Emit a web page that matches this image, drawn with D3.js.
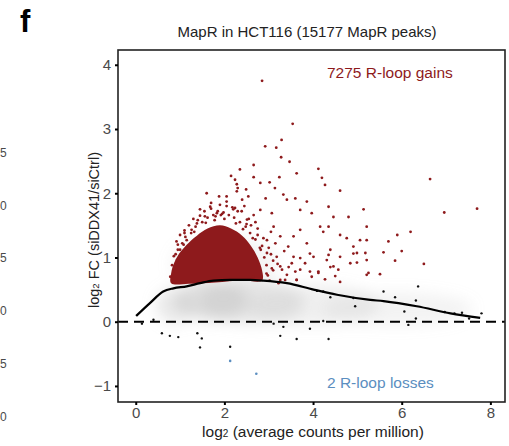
<!DOCTYPE html>
<html>
<head>
<meta charset="utf-8">
<script src="https://cdn.jsdelivr.net/npm/d3@7"></script>
<style>
  body { margin: 0; background: #fff; }
  svg text { font-family: "Liberation Sans", Arial, sans-serif; }
</style>
</head>
<body>
<svg id="chart" width="509" height="446"></svg>
<script>
// ---- data ----
const titleText = "MapR in HCT116 (15177 MapR peaks)";
const xTicks = [0, 2, 4, 6, 8];
const yTicks = [-1, 0, 1, 2, 3, 4];
const gainsLabel = "7275 R-loop gains";
const lossesLabel = "2 R-loop losses";
const neighbourLabels = ["5", "0", "5", "0", "5", "0"]; // tail digits of the panel on the left

// loess trend line
const trendX = [0.01, 0.32, 0.62, 0.85, 1.15, 1.45, 1.75, 2.13, 2.58, 2.88, 3.41, 4.01, 4.54, 5.29, 5.59, 6.34, 7.10, 7.77];
const trendY = [0.09, 0.29, 0.47, 0.52, 0.55, 0.60, 0.64, 0.65, 0.65, 0.64, 0.60, 0.50, 0.42, 0.34, 0.32, 0.24, 0.13, 0.06];

// grey density cloud of unchanged peaks: centre x, centre y, spread x, spread y, weight
const cloudX = [0.9, 1.7, 2.6, 4.0, 5.9, 2.0];
const cloudY = [0.25, 0.32, 0.30, 0.26, 0.20, 0.90];
const cloudSx = [0.45, 0.85, 1.2, 1.5, 1.7, 1.2];
const cloudSy = [0.28, 0.30, 0.34, 0.32, 0.26, 0.45];
const cloudW = [0.35, 0.5, 0.4, 0.28, 0.2, 0.18];

// outline of the dense block of gained peaks
const denseX = [0.80, 0.80, 0.87, 0.98, 1.15, 1.38, 1.62, 1.90, 2.15, 2.40, 2.60, 2.75, 2.85, 2.85, 2.40, 1.80, 1.20];
const denseY = [0.60, 0.76, 0.92, 1.06, 1.20, 1.34, 1.45, 1.50, 1.45, 1.34, 1.18, 1.00, 0.80, 0.64, 0.64, 0.61, 0.59];

// scattered gained peaks
const gainX = [3.54, 2.92, 3.17, 3.29, 3.28, 3.47, 2.66, 2.35, 2.15, 2.24, 2.28, 2.30, 2.28, 2.66, 2.81, 3.02, 3.24, 3.63,
  4.12, 4.20, 4.27, 4.61, 1.60, 1.45, 1.88, 2.05, 2.49, 2.54, 2.93, 3.14, 3.33, 3.41, 3.60, 3.86, 4.35, 5.14,
  1.68, 2.24, 2.81, 3.07, 3.71, 3.97, 4.46, 4.80, 4.16, 4.23, 4.35, 4.61, 4.76, 5.06, 5.21, 5.21, 4.91, 4.99,
  5.21, 5.25, 4.84, 4.61, 4.39, 4.31, 4.01, 3.86, 4.12, 4.46, 3.93, 3.71, 3.82, 3.56, 3.44, 3.26, 3.56, 3.71,
  3.11, 2.96, 3.18, 3.26, 3.07, 3.41, 3.26, 3.63, 2.96, 2.66, 2.51, 2.39, 1.90, 1.83, 1.56, 1.38, 1.26, 1.15,
  1.00, 0.93, 0.85, 3.93, 4.35, 4.39, 4.57, 4.61, 4.50, 5.21, 5.51, 5.59, 4.99, 4.91, 5.18, 3.97, 4.12, 3.60,
  3.63, 3.37, 3.30, 3.52, 3.71, 4.27, 3.22, 6.64, 6.96, 7.70, 2.85, 5.90, 6.00, 6.20, 5.70, 6.50, 5.85,
  3.00, 3.10, 2.95, 3.05, 2.20, 1.70, 1.95, 2.45, 2.70, 2.40, 1.30, 1.10, 0.95, 2.05, 2.60, 3.35, 3.15, 2.75,
  0.78, 0.82, 0.86, 0.95, 1.05, 1.12, 1.25, 1.35, 1.50, 1.62, 1.75, 1.85, 1.98, 2.10, 2.22, 2.35, 2.48, 2.58,
  2.70, 2.80, 2.90, 2.95, 2.98, 3.02, 2.55, 2.05, 1.70, 1.45, 1.20, 0.92, 2.75, 2.88, 3.05, 3.10, 1.55, 2.30,
  1.00, 2.65, 1.40, 1.80, 2.50, 3.20, 3.45, 2.85, 1.10, 1.92, 2.18,
  1.58, 1.78, 2.00, 2.26, 2.42, 1.32, 1.08, 2.64, 2.82, 0.90];
const gainY = [3.08, 2.73, 2.71, 2.83, 2.56, 2.49, 2.44, 2.37, 2.27, 2.21, 2.14, 2.08, 2.03, 2.25, 2.16, 2.17, 2.25, 2.31,
  2.38, 2.24, 2.13, 2.04, 2.00, 1.75, 1.95, 1.87, 2.06, 1.95, 1.92, 2.08, 1.98, 1.90, 1.92, 1.87, 1.79, 1.75,
  1.79, 1.77, 1.74, 1.69, 1.74, 1.69, 1.63, 1.63, 1.48, 1.40, 1.48, 1.35, 1.30, 1.27, 1.27, 1.48, 1.17, 1.07,
  0.96, 0.76, 0.91, 1.01, 1.12, 0.96, 1.01, 1.22, 0.78, 0.86, 0.78, 0.81, 0.91, 1.01, 1.17, 1.33, 1.33, 1.43,
  1.48, 1.27, 1.01, 0.86, 0.83, 0.73, 0.65, 0.65, 1.07, 1.66, 1.59, 1.72, 1.82, 1.69, 1.64, 1.53, 1.43, 1.27,
  1.12, 0.96, 0.78, 1.06, 1.04, 0.85, 0.81, 0.62, 0.71, 0.73, 0.74, 1.08, 0.92, 1.06, 1.07, 0.70, 0.76, 0.78,
  0.65, 0.65, 0.81, 0.91, 0.99, 0.66, 0.60, 2.22, 1.70, 1.76, 3.75, 1.35, 1.10, 1.40, 1.25, 0.90, 0.95,
  1.15, 0.95, 0.75, 1.40, 1.75, 1.85, 1.68, 1.80, 1.55, 1.90, 1.60, 1.38, 1.20, 1.95, 1.50, 1.10, 1.22, 1.35,
  0.70, 0.88, 1.02, 1.12, 1.22, 1.32, 1.38, 1.48, 1.55, 1.62, 1.66, 1.72, 1.70, 1.66, 1.62, 1.55, 1.48, 1.38,
  1.28, 1.15, 1.00, 0.88, 0.72, 0.64, 1.60, 1.80, 1.76, 1.65, 1.50, 1.25, 1.45, 1.30, 1.05, 0.80, 1.72, 1.72,
  1.35, 0.70, 1.58, 1.64, 1.52, 0.90, 0.85, 1.18, 1.42, 1.66, 1.78,
  1.54, 1.58, 1.60, 1.53, 1.44, 1.40, 1.20, 1.30, 1.12, 1.05];

// unchanged peaks drawn as single dots
const flatX = [0.14, 0.40, 0.59, 0.77, 0.96, 1.39, 1.49, 1.45, 2.13, 3.11, 3.33, 3.26, 3.63, 3.93, 4.23, 4.35,
  4.09, 4.23, 4.39, 4.91, 4.95, 5.59, 5.85, 6.06, 6.15, 6.32, 6.32, 6.37, 6.97, 7.19, 7.36, 7.52, 7.80];
const flatY = [-0.03, 0.03, -0.18, -0.22, -0.24, -0.18, -0.26, -0.40, -0.39, -0.03, -0.08, -0.22, -0.27, -0.11, 0.01, -0.27,
  0.48, 0.47, 0.38, 0.37, 0.24, 0.47, 0.38, 0.16, -0.05, 0.05, 0.33, 0.55, 0.15, 0.13, 0.14, 0.05, 0.13];

// lost peaks
const lossX = [2.13, 2.72];
const lossY = [-0.61, -0.81];

// ---- layout ----
const svg = d3.select("#chart");
const plot = { left: 118, top: 50, right: 505, bottom: 402 };
const red = "#8e1a1c";
const blue = "#5b8ec0";
const tickGrey = "#4a4a4a";

const x = d3.scaleLinear().domain([-0.4, 8.33]).range([plot.left, plot.right]);
const y = d3.scaleLinear().domain([-1.25, 4.23]).range([plot.bottom, plot.top]);

const defs = svg.append("defs");
defs.append("clipPath").attr("id", "plot-clip")
  .append("rect")
  .attr("x", plot.left).attr("y", plot.top)
  .attr("width", plot.right - plot.left).attr("height", plot.bottom - plot.top);
defs.append("filter").attr("id", "soft")
  .attr("x", "-50%").attr("y", "-50%").attr("width", "200%").attr("height", "200%")
  .append("feGaussianBlur").attr("stdDeviation", 7);

const body = svg.append("g").attr("clip-path", "url(#plot-clip)");

// grey cloud
body.append("g").attr("filter", "url(#soft)")
  .selectAll("ellipse")
  .data(cloudX.map((cx, i) => ({ cx, cy: cloudY[i], sx: cloudSx[i], sy: cloudSy[i], w: cloudW[i] })))
  .join("ellipse")
  .attr("cx", d => x(d.cx))
  .attr("cy", d => y(d.cy))
  .attr("rx", d => x(d.sx) - x(0))
  .attr("ry", d => y(0) - y(d.sy))
  .attr("fill", "#c4c4c4")
  .attr("opacity", d => d.w);

// dense block of gains
const densePts = denseX.map((v, i) => [x(v), y(denseY[i])]);
body.append("path")
  .attr("d", d3.line().curve(d3.curveCatmullRomClosed)(densePts))
  .attr("fill", red);

// scattered gains
body.append("g").selectAll("circle")
  .data(gainX.map((v, i) => [v, gainY[i]]))
  .join("circle")
  .attr("cx", d => x(d[0]))
  .attr("cy", d => y(d[1]))
  .attr("r", 1.4)
  .attr("fill", red);

// unchanged dots
body.append("g").selectAll("circle")
  .data(flatX.map((v, i) => [v, flatY[i]]))
  .join("circle")
  .attr("cx", d => x(d[0]))
  .attr("cy", d => y(d[1]))
  .attr("r", 1.2)
  .attr("fill", "#111");

// losses
body.append("g").selectAll("circle")
  .data(lossX.map((v, i) => [v, lossY[i]]))
  .join("circle")
  .attr("cx", d => x(d[0]))
  .attr("cy", d => y(d[1]))
  .attr("r", 1.3)
  .attr("fill", blue);

// zero line
body.append("line")
  .attr("x1", plot.left).attr("x2", plot.right)
  .attr("y1", y(0)).attr("y2", y(0))
  .attr("stroke", "#000").attr("stroke-width", 2)
  .attr("stroke-dasharray", "10,6");

// trend line
body.append("path")
  .attr("d", d3.line().x(d => x(d[0])).y(d => y(d[1])).curve(d3.curveMonotoneX)(trendX.map((v, i) => [v, trendY[i]])))
  .attr("fill", "none")
  .attr("stroke", "#000")
  .attr("stroke-width", 2.2);

// frame
svg.append("rect")
  .attr("x", plot.left).attr("y", plot.top)
  .attr("width", plot.right - plot.left).attr("height", plot.bottom - plot.top)
  .attr("fill", "none").attr("stroke", "#222").attr("stroke-width", 1.6);

// axes
const xAxis = svg.append("g")
  .attr("transform", `translate(0,${plot.bottom})`)
  .call(d3.axisBottom(x).tickValues(xTicks).tickSize(3).tickPadding(2).tickFormat(d3.format("d")));
const yAxis = svg.append("g")
  .attr("transform", `translate(${plot.left},0)`)
  .call(d3.axisLeft(y).tickValues(yTicks).tickSize(3).tickPadding(4).tickFormat(d => d < 0 ? "\u2212" + Math.abs(d) : d));
[xAxis, yAxis].forEach(a => {
  a.select(".domain").remove();
  a.selectAll(".tick line").attr("stroke", "#000").attr("stroke-width", 2);
  a.selectAll(".tick text").attr("font-size", 15).attr("fill", tickGrey)
    .attr("font-family", "'Liberation Sans', Arial, sans-serif");
});

// axis titles
const xTitle = svg.append("text")
  .attr("x", 313).attr("y", 437)
  .attr("text-anchor", "middle").attr("font-size", 15.5).attr("fill", "#222");
xTitle.append("tspan").text("log");
xTitle.append("tspan").attr("font-size", 10).text("2");
xTitle.append("tspan").text(" (average counts per million)");

const yTitle = svg.append("text")
  .attr("transform", `translate(99,230) rotate(-90)`)
  .attr("text-anchor", "middle").attr("font-size", 14.5).attr("fill", "#222");
yTitle.append("tspan").text("log");
yTitle.append("tspan").attr("font-size", 9.5).text("2");
yTitle.append("tspan").text(" FC  (siDDX41/siCtrl)");

// title and panel letter
svg.append("text")
  .attr("x", 307).attr("y", 37)
  .attr("text-anchor", "middle").attr("font-size", 15).attr("fill", "#222")
  .text(titleText);
svg.append("text")
  .attr("x", 20).attr("y", 32)
  .attr("font-size", 31).attr("font-weight", "bold").attr("fill", "#000")
  .text("f");

// annotations
svg.append("text")
  .attr("x", 327).attr("y", 78)
  .attr("font-size", 15.5).attr("fill", red)
  .text(gainsLabel);
svg.append("text")
  .attr("x", 327).attr("y", 388)
  .attr("font-size", 15.5).attr("fill", blue)
  .text(lossesLabel);

// digits of the neighbouring panel at the left edge
svg.append("g").selectAll("text")
  .data(neighbourLabels)
  .join("text")
  .attr("x", 0)
  .attr("y", (d, i) => 157 + i * 52.7)
  .attr("font-size", 12)
  .attr("fill", tickGrey)
  .text(d => d);
</script>
</body>
</html>
